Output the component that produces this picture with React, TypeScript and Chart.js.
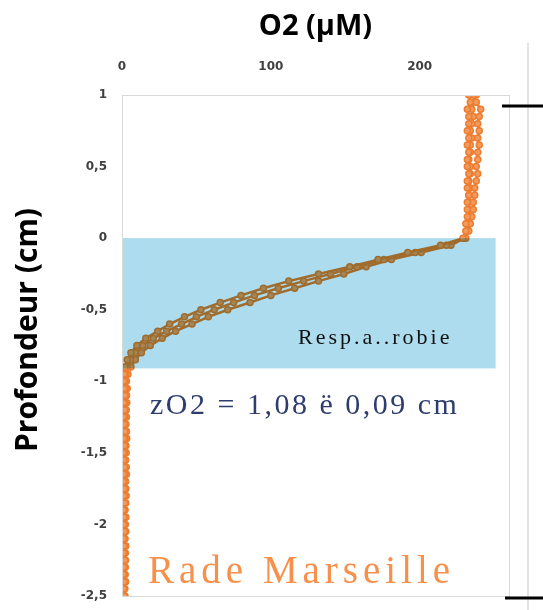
import { useEffect, useRef } from 'react';
import { Chart, registerables } from 'chart.js';

Chart.register(...registerables);

// Depth below sediment-water interface (cm)
const depthCm = [
  1, 0.95, 0.9, 0.85, 0.8, 0.75, 0.7, 0.65, 0.6, 0.55, 0.5, 0.45, 0.4, 0.35, 0.3, 0.25, 0.2, 0.15, 0.1, 0.05, 0,
  -0.05, -0.1, -0.15, -0.2, -0.25, -0.3, -0.35, -0.4, -0.45, -0.5, -0.55, -0.6, -0.65, -0.7, -0.75, -0.8, -0.85, -0.9, -0.95, -1,
  -1.05, -1.1, -1.15, -1.2, -1.25, -1.3, -1.35, -1.4, -1.45, -1.5, -1.55, -1.6, -1.65, -1.7, -1.75, -1.8, -1.85, -1.9, -1.95, -2,
  -2.05, -2.1, -2.15, -2.2, -2.25, -2.3, -2.35, -2.4, -2.45, -2.5,
];

// O2 concentration (µM), three replicate profiles
const o2ProfileA = [
  233, 234, 232, 233, 233, 232, 233, 232, 233, 232, 232, 233, 232, 232, 233, 232, 232, 232, 231, 231, 229,
  214, 192, 172, 153, 132, 112, 95, 80, 66, 53, 42, 32, 24, 16, 10, 6, 3.5, 2, 1.5, 1.2,
  1.5, 2, 1.2, 1.8, 1, 1.5, 2, 1.2, 1.6, 1, 1.4, 1.8, 1.2, 1, 1.5, 1.3, 1.8, 1, 1.4, 1.2,
  1.6, 1, 1.5, 1.2, 1.8, 1.3, 1, 1.5, 1.2, 1.6,
];
const o2ProfileB = [
  236, 238, 241, 240, 239, 240, 239, 240, 239, 239, 238, 239, 238, 237, 237, 236, 236, 235, 234, 233, 231,
  218, 197, 176, 158, 140, 122, 105, 89, 75, 62, 50, 40, 30, 21, 14, 9, 5.5, 3.5, 2.5, 2,
  2.5, 3, 2.2, 2.8, 2, 2.6, 3, 2.2, 2.5, 2, 2.4, 2.8, 2, 2.2, 2.6, 2, 2.4, 1.8, 2.2, 2,
  2.5, 1.8, 2.2, 2, 2.4, 1.8, 2, 2.2, 1.8, 2,
];
const o2ProfileC = [
  238, 236, 235, 236, 235, 234, 235, 234, 234, 233, 234, 234, 233, 234, 233, 233, 233, 233, 232, 232, 230,
  221, 201, 181, 164, 149, 132, 116, 100, 86, 71, 58, 47, 36, 27, 19, 13, 9, 6, 4, 3,
  3.5, 3, 3.2, 2.6, 3, 2.4, 2.8, 3.2, 2.5, 2.8, 2.2, 2.6, 3, 2.4, 2.2, 2.8, 2.4, 2, 2.6, 2.2,
  2.4, 2, 2.5, 2.2, 1.8, 2.2, 2, 2.4, 1.8, 1.5,
];

// Axis ranges / ticks
const o2Range = [0, 260];
const o2Step = 100;
const depthRange = [-2.5, 1];
const depthStep = 0.5;

// Aerobic respiration zone (data units)
const respZoneO2Max = 251;
const respZoneDepthTop = 0;
const respZoneDepthBottom = -0.91;

const xTitle = 'O2 (µM)';
const yTitle = 'Profondeur (cm)';
const respLabel = 'Resp.a..robie';
const zO2Label = 'zO2 = 1,08 ë 0,09 cm';
const siteLabel = 'Rade Marseille';

const ORANGE = '#ED7D31';

export default function App() {
  const ref = useRef<HTMLCanvasElement>(null);

  useEffect(() => {
    const canvas = ref.current;
    if (!canvas) return;

    const decor = {
      id: 'decor',
      beforeDraw(chart: any) {
        const ctx = chart.ctx;
        ctx.save();
        ctx.fillStyle = '#ffffff';
        ctx.fillRect(0, 0, chart.width, chart.height);
        ctx.restore();
      },
      afterDatasetsDraw(chart: any) {
        const ctx = chart.ctx;
        const xs = chart.scales.x;
        const ys = chart.scales.y;
        const area = chart.chartArea;
        const x0 = xs.getPixelForValue(0);
        const x1 = xs.getPixelForValue(respZoneO2Max);
        const y0 = ys.getPixelForValue(respZoneDepthTop);
        const y1 = ys.getPixelForValue(respZoneDepthBottom);
        ctx.save();
        ctx.globalCompositeOperation = 'multiply';
        ctx.fillStyle = '#ACDCED';
        ctx.fillRect(x0, y0, x1 - x0, y1 - y0);
        ctx.restore();

        ctx.save();
        ctx.strokeStyle = '#d9d9d9';
        ctx.lineWidth = 1;
        ctx.strokeRect(area.left + 0.5, area.top + 0.5, area.right - area.left, area.bottom - area.top);
        ctx.restore();

        ctx.save();
        ctx.textAlign = 'left';
        ctx.textBaseline = 'alphabetic';
        (ctx as any).letterSpacing = '3px';
        ctx.fillStyle = '#111111';
        ctx.font = '22px "Liberation Serif", serif';
        ctx.fillText(respLabel, 298, 344);

        (ctx as any).letterSpacing = '2.5px';
        ctx.fillStyle = '#2E3D6E';
        ctx.font = '30px "Liberation Serif", serif';
        ctx.fillText(zO2Label, 150, 414);

        (ctx as any).letterSpacing = '5px';
        ctx.fillStyle = '#F7904A';
        ctx.font = '39px "Liberation Serif", serif';
        ctx.fillText(siteLabel, 148, 583);
        ctx.restore();
      },
      afterDraw(chart: any) {
        const ctx = chart.ctx;
        ctx.save();
        ctx.translate(28, 330);
        ctx.rotate(-Math.PI / 2);
        ctx.textAlign = 'center';
        ctx.textBaseline = 'middle';
        ctx.fillStyle = '#000000';
        ctx.font = 'bold 30px "Open Sans", sans-serif';
        ctx.fillText(yTitle, 0, 0);
        ctx.restore();

        ctx.save();
        ctx.strokeStyle = '#d9d9d9';
        ctx.lineWidth = 1.5;
        ctx.beginPath();
        ctx.moveTo(528, 43);
        ctx.lineTo(528, 610);
        ctx.stroke();
        ctx.strokeStyle = '#000000';
        ctx.lineWidth = 3;
        ctx.beginPath();
        ctx.moveTo(502, 106);
        ctx.lineTo(543, 106);
        ctx.moveTo(505, 598);
        ctx.lineTo(543, 598);
        ctx.stroke();
        ctx.restore();
      },
    };

    const mk = (vals: number[]) => depthCm.map((d, i) => ({ x: vals[i], y: d }));
    const ds = (vals: number[]) => ({
      data: mk(vals),
      showLine: true,
      borderColor: ORANGE,
      borderWidth: 2.5,
      pointRadius: 3,
      pointBorderWidth: 1.5,
      pointBorderColor: ORANGE,
      pointBackgroundColor: '#F29A5C',
      tension: 0,
    });

    const chart = new Chart(canvas, {
      type: 'scatter',
      data: {
        datasets: [ds(o2ProfileA), ds(o2ProfileB), ds(o2ProfileC)],
      },
      options: {
        animation: false,
        responsive: false,
        devicePixelRatio: 1,
        layout: { padding: { left: 0, top: 0, right: 34, bottom: 14 } },
        plugins: { legend: { display: false }, tooltip: { enabled: false } },
        scales: {
          x: {
            type: 'linear',
            position: 'top',
            min: o2Range[0],
            max: o2Range[1],
            grid: { display: false, drawTicks: false },
            border: { display: false },
            ticks: {
              stepSize: o2Step,
              includeBounds: false,
              padding: 21,
              color: '#404040',
              font: { family: '"DejaVu Sans", sans-serif', size: 12, weight: 'bold' },
            },
            title: {
              display: true,
              text: xTitle,
              color: '#000000',
              padding: { top: 9, bottom: 0 },
              font: { family: '"Open Sans", sans-serif', size: 29, weight: 'bold' },
            },
            afterFit(scale: any) {
              scale.height = 95;
              scale.paddingLeft = 0;
              scale.paddingRight = 0;
            },
          },
          y: {
            type: 'linear',
            min: depthRange[0],
            max: depthRange[1],
            grid: { display: false, drawTicks: false },
            border: { display: false },
            ticks: {
              stepSize: depthStep,
              includeBounds: false,
              padding: 15,
              color: '#404040',
              font: { family: '"DejaVu Sans", sans-serif', size: 12, weight: 'bold' },
              callback: (v: any) => String(v).replace('.', ','),
            },
            afterFit(scale: any) {
              scale.width = 122;
              scale.paddingTop = 0;
              scale.paddingBottom = 0;
            },
          },
        },
      },
      plugins: [decor],
    } as any);

    return () => chart.destroy();
  }, []);

  return (
    <div style={{ position: 'fixed', left: 0, top: 0, width: 543, height: 610 }}>
      <canvas ref={ref} width={543} height={610} style={{ display: 'block', width: 543, height: 610 }} />
    </div>
  );
}
